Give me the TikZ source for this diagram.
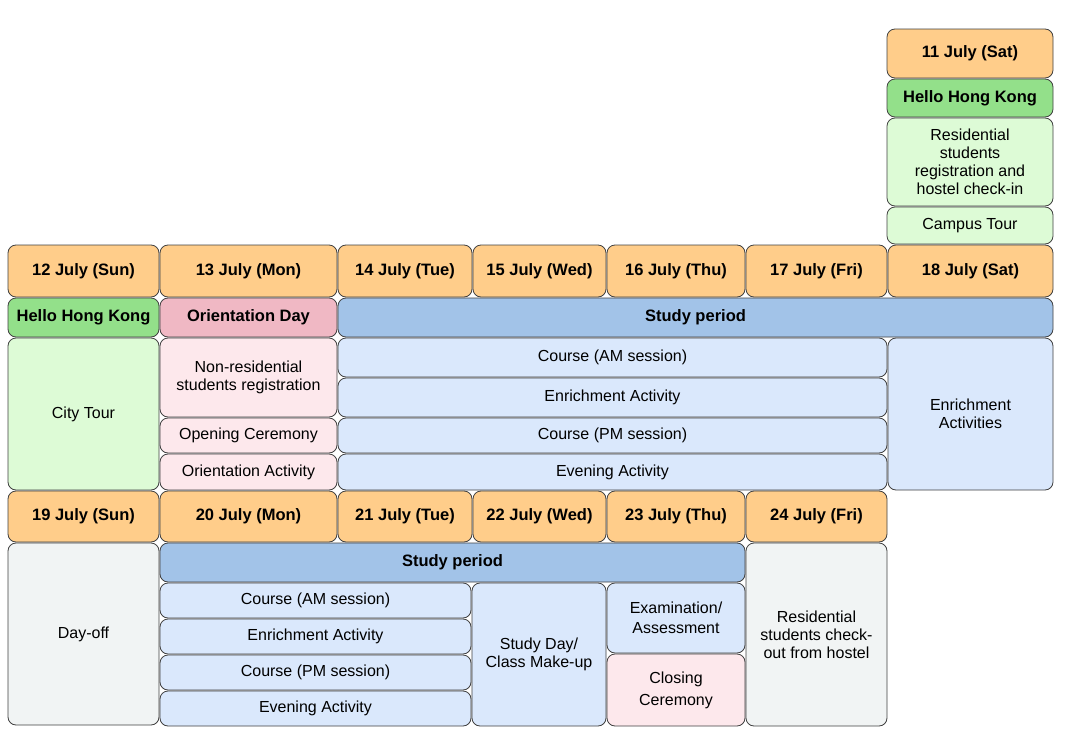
\documentclass[tikz,border=0pt]{standalone}
\usepackage{fontspec}
\setmainfont{Liberation Sans}
\begin{document}
\begin{tikzpicture}[x=1pt,y=-1pt,
 b/.style={draw=black!75,line width=0.8pt,rounded corners=8pt,inner sep=0pt,align=center,font=\fontsize{16}{18}\selectfont},
 hd/.style={b,fill=date,font=\fontsize{16.5}{19}\selectfont\bfseries},
 gh/.style={b,fill=grh,font=\fontsize{16.5}{19}\selectfont\bfseries},
 ph/.style={b,fill=pkh,font=\fontsize{16.5}{19}\selectfont\bfseries},
 bh/.style={b,fill=blh,font=\fontsize{16.5}{19}\selectfont\bfseries},
 gl/.style={b,fill=grl},pl/.style={b,fill=pkl},bl/.style={b,fill=bll},yl/.style={b,fill=gyl}]
\definecolor{date}{HTML}{FFCD8A}
\definecolor{grh}{HTML}{93E08A}
\definecolor{grl}{HTML}{DDFBD6}
\definecolor{pkh}{HTML}{F0B8C4}
\definecolor{pkl}{HTML}{FDE8EC}
\definecolor{blh}{HTML}{A2C3E8}
\definecolor{bll}{HTML}{DAE8FC}
\definecolor{gyl}{HTML}{F1F4F4}
\newcommand\bx[7]{\node[#5,minimum width={#3-#1},minimum height={#4-#2}] (#6) at ({(#1+#3)/2},{(#2+#4)/2}) {#7};}
\useasboundingbox (0,0) rectangle (1080,739);
% top column
\bx{887}{29}{1053}{78}{hd}{d11}{11 July (Sat)}
\bx{887}{79}{1053}{117}{gh}{hk11}{Hello Hong Kong}
\bx{887}{118}{1053}{206}{gl}{res}{Residential\\students\\registration and\\hostel check-in}
\bx{887}{207}{1053}{244}{gl}{camp}{Campus Tour}
% dates row 1
\bx{8}{245}{159}{297}{hd}{d12}{12 July (Sun)}
\bx{160}{245}{337}{297}{hd}{d13}{13 July (Mon)}
\bx{338}{245}{472}{297}{hd}{d14}{14 July (Tue)}
\bx{473}{245}{606}{297}{hd}{d15}{15 July (Wed)}
\bx{607}{245}{745}{297}{hd}{d16}{16 July (Thu)}
\bx{746}{245}{887}{297}{hd}{d17}{17 July (Fri)}
\bx{888}{245}{1053}{297}{hd}{d18}{18 July (Sat)}
% band row
\bx{8}{298}{159}{337}{gh}{hk12}{Hello Hong Kong}
\bx{160}{298}{337}{337}{ph}{ori}{Orientation Day}
\bx{338}{298}{1053}{337}{bh}{sp1}{Study period}
% content week 1
\bx{8}{338}{159}{490}{gl}{city}{City Tour}
\bx{160}{338}{337}{417}{pl}{nonres}{Non-residential\\students registration}
\bx{160}{418}{337}{453}{pl}{open}{Opening Ceremony}
\bx{160}{454}{337}{490}{pl}{oact}{Orientation Activity}
\bx{338}{338}{887}{377}{bl}{am1}{Course (AM session)}
\bx{338}{378}{887}{417}{bl}{en1}{Enrichment Activity}
\bx{338}{418}{887}{453}{bl}{pm1}{Course (PM session)}
\bx{338}{454}{887}{490}{bl}{ev1}{Evening Activity}
\bx{888}{338}{1053}{490}{bl}{enr}{Enrichment\\Activities}
% dates row 2
\bx{8}{491}{159}{542}{hd}{d19}{19 July (Sun)}
\bx{160}{491}{337}{542}{hd}{d20}{20 July (Mon)}
\bx{338}{491}{472}{542}{hd}{d21}{21 July (Tue)}
\bx{473}{491}{606}{542}{hd}{d22}{22 July (Wed)}
\bx{607}{491}{745}{542}{hd}{d23}{23 July (Thu)}
\bx{746}{491}{887}{542}{hd}{d24}{24 July (Fri)}
% week 2
\bx{8}{543}{159}{725}{yl}{off}{Day-off}
\bx{160}{543}{745}{582}{bh}{sp2}{Study period}
\bx{160}{583}{471}{618}{bl}{am2}{Course (AM session)}
\bx{160}{619}{471}{654}{bl}{en2}{Enrichment Activity}
\bx{160}{655}{471}{690}{bl}{pm2}{Course (PM session)}
\bx{160}{691}{471}{726}{bl}{ev2}{Evening Activity}
\bx{472}{583}{606}{726}{bl}{sday}{Study Day/\\Class Make-up}
\bx{607}{583}{745}{653}{bl}{exam}{Examination/\\[2pt]Assessment}
\bx{607}{654}{745}{726}{pl}{close}{Closing\\[4pt]Ceremony}
\bx{746}{543}{887}{726}{yl}{out}{Residential\\students check-\\out from hostel}
\end{tikzpicture}
\end{document}
